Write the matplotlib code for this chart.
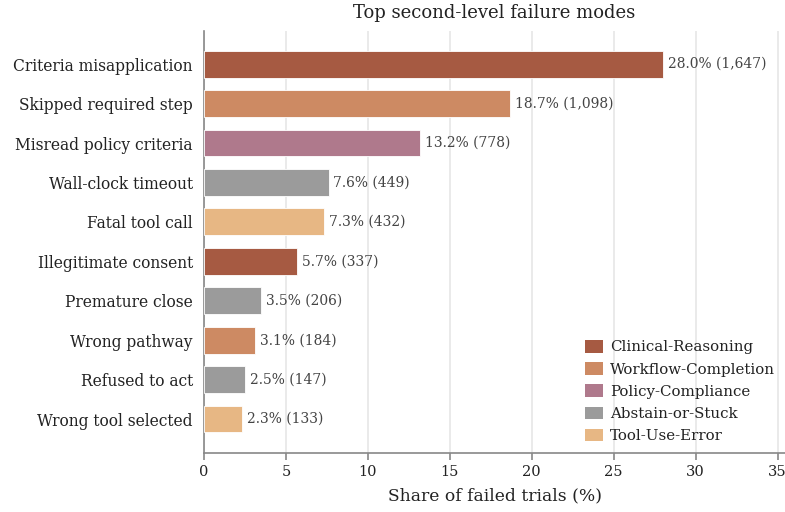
import matplotlib
matplotlib.use("Agg")
import matplotlib.pyplot as plt
from matplotlib.patches import Patch

plt.rcParams['font.family'] = ['DejaVu Serif']

labels = ["Criteria misapplication", "Skipped required step", "Misread policy criteria",
          "Wall-clock timeout", "Fatal tool call", "Illegitimate consent",
          "Premature close", "Wrong pathway", "Refused to act", "Wrong tool selected"]
shares = [28.0, 18.7, 13.2, 7.6, 7.3, 5.7, 3.5, 3.1, 2.5, 2.3]
counts = [1647, 1098, 778, 449, 432, 337, 206, 184, 147, 133]
groups = ["Clinical-Reasoning", "Workflow-Completion", "Policy-Compliance",
          "Abstain-or-Stuck", "Tool-Use-Error", "Clinical-Reasoning",
          "Abstain-or-Stuck", "Workflow-Completion", "Abstain-or-Stuck", "Tool-Use-Error"]
group_order = ["Clinical-Reasoning", "Workflow-Completion", "Policy-Compliance",
               "Abstain-or-Stuck", "Tool-Use-Error"]
group_colors = {"Clinical-Reasoning": "#A65A42", "Workflow-Completion": "#CD8A63",
                "Policy-Compliance": "#AF798C", "Abstain-or-Stuck": "#9B9B9B",
                "Tool-Use-Error": "#E7B784"}

fig = plt.figure(figsize=(7.85, 5.12), dpi=100)
ax = fig.add_axes([204/785, 1-453/512, (785-204)/785, (453-31)/512])

y = list(range(len(labels)))
ax.barh(y, shares, height=0.68, color=[group_colors[g] for g in groups],
        edgecolor="white", linewidth=0.6, zorder=3)
for yi, s, c in zip(y, shares, counts):
    ax.text(s + 0.3, yi, f"{s:.1f}% ({c:,})", va="center", ha="left",
            fontsize=10, color="#444444", zorder=4)

ax.set_ylim(9.86, -0.84)
ax.set_xlim(0, 35.45)
ax.set_yticks(y)
ax.set_yticklabels(labels, fontsize=11.2, color="#222222")
ax.set_xticks([0, 5, 10, 15, 20, 25, 30, 35])
ax.tick_params(axis="x", labelsize=10.5, colors="#222222", length=5, color="#888888", width=1.2)
ax.tick_params(axis="y", length=0, pad=8)
ax.grid(axis="x", color="#E6E6E6", linewidth=1.2, zorder=0)
ax.set_axisbelow(True)
for sp in ["top", "right"]:
    ax.spines[sp].set_visible(False)
for sp in ["left", "bottom"]:
    ax.spines[sp].set_color("#888888")
    ax.spines[sp].set_linewidth(1.2)
ax.set_xlabel("Share of failed trials (%)", fontsize=12.3, color="#222222", labelpad=6)
ax.set_title("Top second-level failure modes", fontsize=13, color="#222222", pad=9)

handles = [Patch(facecolor=group_colors[g], edgecolor="none", label=g) for g in group_order]
ax.legend(handles=handles, loc="lower right", bbox_to_anchor=(1.0, 0.0), frameon=False,
          fontsize=10.8, handlelength=1.2, handleheight=0.9, handletextpad=0.5,
          labelspacing=0.52, labelcolor="#222222", borderaxespad=0.25)

fig.savefig("out.png", dpi=100)
